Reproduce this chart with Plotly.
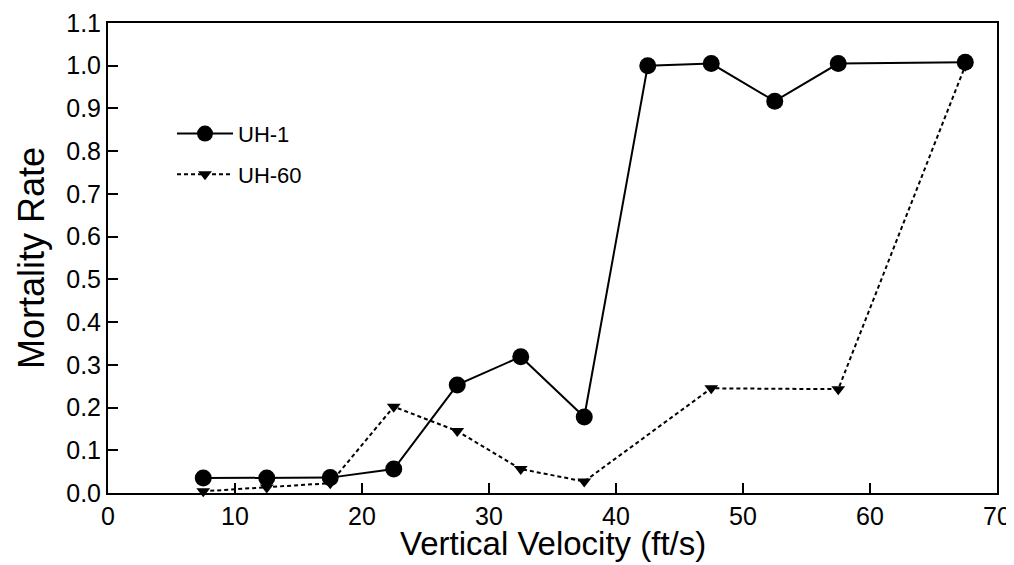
import plotly.graph_objects as go

# Data
uh1_x = [7.5, 12.5, 17.5, 22.5, 27.5, 32.5, 37.5, 42.5, 47.5, 52.5, 57.5, 67.5]
uh1_y = [0.035, 0.035, 0.036, 0.056, 0.253, 0.319, 0.178, 1.0, 1.005, 0.917, 1.005, 1.008]

uh60_x = [7.5, 12.5, 17.5, 22.5, 27.5, 32.5, 37.5, 47.5, 57.5, 67.5]
uh60_y = [0.004, 0.013, 0.023, 0.202, 0.145, 0.056, 0.027, 0.245, 0.243, 1.0]

x_ticks = [0, 10, 20, 30, 40, 50, 60, 70]
y_ticks = [0.0, 0.1, 0.2, 0.3, 0.4, 0.5, 0.6, 0.7, 0.8, 0.9, 1.0, 1.1]
y_tick_text = ["0.0", "0.1", "0.2", "0.3", "0.4", "0.5", "0.6", "0.7", "0.8", "0.9", "1.0", "1.1"]

x_title = "Vertical Velocity (ft/s)"
y_title = "Mortality Rate"

FONT = "Liberation Sans, Arial, Helvetica, sans-serif"

fig = go.Figure()
fig.add_trace(go.Scatter(
    x=uh1_x, y=uh1_y, name="UH-1", mode="lines+markers",
    line=dict(color="black", width=2),
    marker=dict(symbol="circle", size=17, color="black"),
    cliponaxis=False, legendgroup="a",
))
fig.add_trace(go.Scatter(
    x=uh60_x, y=uh60_y, name="UH-60", mode="lines+markers",
    line=dict(color="black", width=2, dash="4px,3px"),
    marker=dict(symbol="triangle-down", size=12, color="black"),
    cliponaxis=False, legendgroup="b",
))

axis_common = dict(
    showline=True, linecolor="black", linewidth=2, mirror=True,
    ticks="inside", ticklen=10, tickwidth=2, tickcolor="black",
    showgrid=False, zeroline=False, automargin=False,
    tickfont=dict(family=FONT, size=25, color="black"),
)

fig.update_xaxes(
    range=[0, 70], tickvals=x_ticks, ticktext=[str(v) for v in x_ticks],
    **axis_common,
)
fig.update_yaxes(
    range=[0, 1.1], tickvals=y_ticks, ticktext=y_tick_text,
    title=dict(text=y_title, font=dict(family=FONT, size=36, color="black"), standoff=11),
    ticklabelstandoff=0,
    **axis_common,
)

# x-axis title as an annotation so it can sit low, as in the reference
fig.add_annotation(
    text=x_title, xref="paper", yref="paper", x=0.5, y=-0.063,
    xanchor="center", yanchor="top", showarrow=False,
    font=dict(family=FONT, size=33, color="black"),
)

# The page body has an 8px margin, so the figure starts at (8, 8) in the window
fig.update_layout(
    width=1006, height=557,
    margin=dict(l=100, r=17, t=15, b=72),
    paper_bgcolor="white", plot_bgcolor="white",
    showlegend=True,
    legend=dict(
        x=0.072, y=0.809, xanchor="left", yanchor="top",
        bgcolor="rgba(0,0,0,0)", borderwidth=0,
        font=dict(family=FONT, size=22, color="black"),
        itemwidth=56, traceorder="grouped", tracegroupgap=9,
    ),
)

fig.write_html("out.html")
